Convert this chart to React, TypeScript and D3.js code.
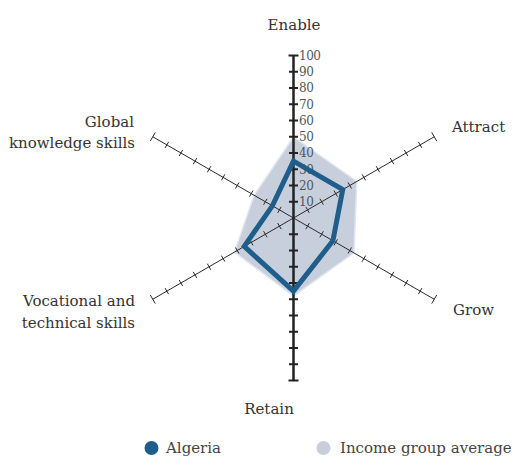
import React from "react";
import * as d3 from "d3";

const axes = ["Enable", "Attract", "Grow", "Retain", "Vocational and technical skills", "Global knowledge skills"];
const algeria = [35, 35, 28, 45, 35, 15];
const incomeAvg = [50, 45, 43, 48, 42, 28];
const tickValues = [10, 20, 30, 40, 50, 60, 70, 80, 90, 100];

const W = 514, H = 457;
const cx = 293.5, cy = 218, R = 162.5;
const FONT = "DejaVu Serif";

export default function App() {
  const r = d3.scaleLinear().domain([0, 100]).range([0, R]);
  const angle = d3.scaleLinear().domain([0, axes.length]).range([-Math.PI / 2, (3 * Math.PI) / 2]);
  const pt = (i: number, v: number): [number, number] => [
    cx + r(v) * Math.cos(angle(i)),
    cy + r(v) * Math.sin(angle(i)),
  ];
  const line = d3.line<[number, number]>().curve(d3.curveLinearClosed);
  const algPts = algeria.map((v, i) => pt(i, v));
  const avgPts = incomeAvg.map((v, i) => pt(i, v));

  const diagAxes = [1, 2, 4, 5];

  return (
    <svg width={W} height={H} style={{ position: "absolute", left: 0, top: 0 }}>
      <path d={line(avgPts) || ""} fill="#c8cfdc" stroke="#e3e7ee" strokeWidth={1.5} />
      {diagAxes.map((i) => {
        const a = angle(i);
        const [x1, y1] = pt(i, 100);
        const px = -Math.sin(a), py = Math.cos(a);
        return (
          <g key={i}>
            <line x1={cx} y1={cy} x2={x1} y2={y1} stroke="#2a2a2a" strokeWidth={1} />
            {tickValues.map((t) => {
              const [tx, ty] = pt(i, t);
              const h = t === 100 ? 5 : 3.5;
              return (
                <line key={t} x1={tx - px * h} y1={ty - py * h} x2={tx + px * h} y2={ty + py * h} stroke="#2a2a2a" strokeWidth={1} />
              );
            })}
          </g>
        );
      })}
      <line x1={cx} y1={pt(0, 100)[1]} x2={cx} y2={pt(3, 100)[1]} stroke="#222" strokeWidth={2.5} />
      {[0, 3].map((i) =>
        tickValues.map((t) => {
          const [, ty] = pt(i, t);
          const h = t === 100 ? 5 : 4.5;
          return <line key={i + "-" + t} x1={cx - h} x2={cx + h} y1={ty} y2={ty} stroke="#222" strokeWidth={2} />;
        })
      )}
      {tickValues.map((t) => (
        <text key={"l" + t} x={cx + 5.5} y={pt(0, t)[1]} dy="0.36em" fontFamily={FONT} fontSize={12} letterSpacing={-0.5} fill="#555">
          {t}
        </text>
      ))}
      <path d={line(algPts) || ""} fill="none" stroke="#1f5e8b" strokeWidth={5} strokeLinejoin="miter" />
      <g fontFamily={FONT} fontSize={15} fill="#333">
        <text x={294} y={30} textAnchor="middle">{axes[0]}</text>
        <text x={452} y={132}>{axes[1]}</text>
        <text x={453} y={315}>{axes[2]}</text>
        <text x={269} y={414} textAnchor="middle">{axes[3]}</text>
        <text x={135} y={306} textAnchor="end">Vocational and</text>
        <text x={135} y={328} textAnchor="end">technical skills</text>
        <text x={134} y={127} textAnchor="end">Global</text>
        <text x={135} y={148} textAnchor="end">knowledge skills</text>
      </g>
      <g fontFamily={FONT} fontSize={15} fill="#444">
        <circle cx={151.5} cy={448} r={7} fill="#1f5e8b" />
        <text x={166} y={453}>Algeria</text>
        <circle cx={323.5} cy={448} r={7} fill="#c8cfdc" />
        <text x={340} y={453}>Income group average</text>
      </g>
    </svg>
  );
}
